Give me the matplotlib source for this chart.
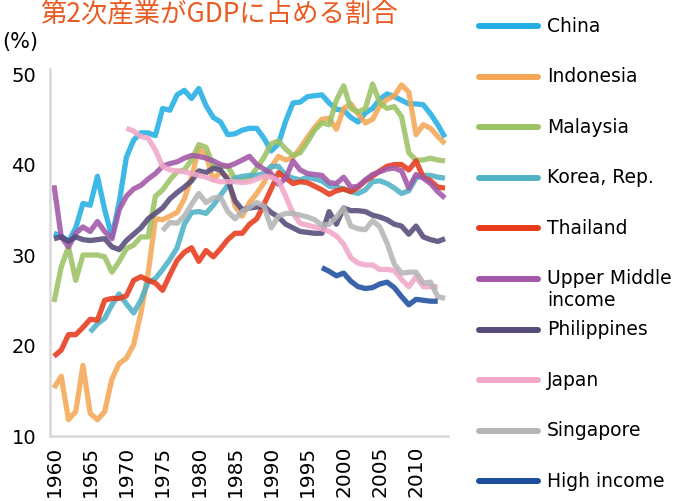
import matplotlib
matplotlib.use("Agg")
import matplotlib.pyplot as plt
from matplotlib.lines import Line2D

# ---------------- data ----------------
years_full = list(range(1960, 2015))
years_korea = list(range(1965, 2015))
years_japan = list(range(1970, 2014))
years_singapore = list(range(1975, 2015))
years_high = list(range(1997, 2014))

china = [32.4, 32.1, 31.5, 33.0, 35.7, 35.5, 38.7, 35.0, 32.0, 35.8,
         40.8, 42.7, 43.5, 43.5, 43.2, 46.2, 46.0, 47.7, 48.2, 47.3,
         48.4, 46.5, 45.2, 44.7, 43.3, 43.4, 43.8, 44.0, 44.0, 42.9,
         41.5, 42.3, 44.8, 46.8, 46.9, 47.5, 47.6, 47.7, 46.8, 46.1,
         46.0, 45.2, 44.7, 45.7, 46.2, 47.2, 47.8, 47.5, 47.1, 46.7,
         46.7, 46.6, 45.6, 44.4, 43.0]
indonesia = [15.3, 16.6, 11.8, 12.7, 17.8, 12.5, 11.8, 12.7, 16.3, 18.0,
             18.6, 20.1, 23.6, 28.0, 34.0, 33.9, 34.3, 34.7, 36.2, 38.6,
             41.8, 41.0, 38.3, 39.2, 38.6, 35.4, 34.3, 35.8, 36.8, 38.0,
             39.7, 40.9, 40.5, 40.8, 41.8, 43.0, 44.1, 45.0, 45.1, 43.9,
             46.2, 46.7, 45.6, 44.6, 45.0, 46.5, 47.2, 47.6, 48.8, 48.0,
             43.3, 44.4, 44.0, 43.1, 42.3]
malaysia = [24.8, 28.7, 30.9, 27.2, 30.0, 30.0, 30.0, 29.8, 28.1, 29.3,
            30.7, 31.1, 32.0, 32.0, 36.5, 37.2, 38.3, 39.2, 39.4, 40.5,
            42.2, 41.9, 39.8, 39.8, 39.8, 38.4, 38.3, 38.5, 39.6, 40.8,
            42.3, 42.6, 41.7, 41.0, 41.3, 42.5, 43.8, 44.6, 44.4, 47.1,
            48.7, 46.2, 45.8, 46.2, 48.9, 46.8, 46.2, 46.4, 45.3, 41.3,
            40.5, 40.5, 40.7, 40.5, 40.4]
korea = [21.5, 22.4, 23.0, 24.5, 25.7,
         24.6, 23.6, 25.0, 27.0, 27.4, 28.4, 29.5, 30.8, 33.4, 34.7,
         34.8, 34.6, 35.5, 36.6, 37.7, 38.5, 38.7, 38.8, 38.8, 39.0,
         39.8, 39.8, 38.8, 38.5, 38.3, 38.6, 38.4, 38.2, 37.6, 37.5,
         37.3, 37.0, 36.8, 37.2, 38.1, 38.2, 37.9, 37.4, 36.8, 37.1,
         38.5, 38.8, 38.8, 38.6, 38.5]
thailand = [18.8, 19.5, 21.2, 21.2, 22.0, 22.9, 22.8, 25.0, 25.2, 25.2,
            25.5, 27.2, 27.6, 27.2, 26.9, 26.1, 27.8, 29.4, 30.3, 30.8,
            29.3, 30.5, 29.8, 30.7, 31.7, 32.4, 32.4, 33.4, 34.0, 35.6,
            37.3, 39.1, 38.5, 37.9, 38.1, 38.0, 37.6, 37.2, 36.7, 37.1,
            37.3, 37.0, 37.5, 38.2, 38.7, 39.3, 39.8, 40.0, 40.0, 39.4,
            40.4, 38.6, 38.2, 37.5, 37.4]
upper_middle = [37.7, 32.0, 30.9, 32.4, 33.1, 32.6, 33.7, 32.6, 31.8, 35.0,
                36.5, 37.3, 37.7, 38.4, 39.0, 39.8, 40.1, 40.3, 40.7, 41.0,
                40.9, 40.7, 40.4, 40.0, 39.8, 40.1, 40.5, 40.9, 40.0, 39.5,
                39.0, 37.8, 38.5, 40.4, 39.4, 39.0, 38.9, 38.8, 38.0, 37.9,
                38.6, 37.5, 37.6, 38.3, 38.9, 39.2, 39.5, 39.6, 39.3, 37.4,
                38.9, 38.5, 37.9, 37.0, 36.3]
philippines = [31.8, 32.0, 31.5, 32.0, 31.7, 31.6, 31.7, 31.8, 30.9, 30.6,
               31.6, 32.3, 33.0, 34.0, 34.6, 35.2, 36.2, 36.9, 37.5, 38.2,
               39.3, 39.1, 39.6, 39.4, 38.3, 36.0, 35.0, 35.2, 35.3, 35.4,
               34.7, 34.2, 33.4, 33.0, 32.6, 32.5, 32.4, 32.4, 34.8, 33.4,
               35.2, 34.9, 34.9, 34.8, 34.4, 34.2, 33.9, 33.4, 33.2, 32.3,
               33.2, 32.0, 31.7, 31.5, 31.8]
japan = [44.0, 43.7, 43.1, 42.9, 41.6, 39.8, 39.4, 39.3, 39.2, 39.0,
         38.8, 38.6, 38.3, 38.1, 38.1, 38.1, 38.0, 38.1, 38.4, 38.7,
         38.6, 38.2, 36.5, 34.6, 33.5, 33.3, 33.1, 32.9, 32.6, 32.1,
         31.2, 29.7, 29.1, 28.9, 28.9, 28.4, 28.4, 28.3, 27.3, 26.5,
         27.6, 26.5, 26.5, 26.5]
singapore = [32.7, 33.6, 33.5, 34.3, 35.6,
             36.8, 35.8, 36.3, 36.4, 34.8, 34.0, 34.8, 35.3, 35.8, 35.4,
             33.0, 34.3, 34.6, 34.6, 34.4, 34.2, 33.9, 33.3, 33.4, 34.2,
             35.2, 33.2, 32.9, 32.8, 33.8, 33.1, 31.3, 29.0, 28.0, 28.1,
             28.1, 26.9, 27.0, 25.4, 25.2]
high_income = [28.6, 28.2, 27.7, 28.0, 27.1, 26.5, 26.3, 26.4, 26.8, 27.0,
               26.4, 25.4, 24.5, 25.1, 25.0, 24.9, 24.9]

series_names = ["China", "Indonesia", "Malaysia", "Korea, Rep.", "Thailand",
                "Upper Middle\nincome", "Philippines", "Japan", "Singapore",
                "High income"]
series_years = [years_full, years_full, years_full, years_korea, years_full,
                years_full, years_full, years_japan, years_singapore, years_high]
series_values = [china, indonesia, malaysia, korea, thailand,
                 upper_middle, philippines, japan, singapore, high_income]
series_colors = ["#22AEE4", "#F3A857", "#9BC265", "#4FB2C6", "#E83A1C",
                 "#A258A8", "#564A7A", "#F1A8C9", "#B5B5B5", "#1E4D9F"]

x_ticks = [1960, 1965, 1970, 1975, 1980, 1985, 1990, 1995, 2000, 2005, 2010]
y_ticks = [10, 20, 30, 40, 50]
title = "第2次産業がGDPに占める割合"
unit = "(%)"

# ---------------- figure ----------------
W, H = 680, 501
fig = plt.figure(figsize=(W / 100, H / 100), dpi=100)
ax = fig.add_axes([50 / W, (H - 436) / H, 398 / W, 367.4 / H])

for yrs, vals, col in zip(series_years, series_values, series_colors):
    ax.plot(yrs, vals, color=col, lw=3.8, alpha=0.88,
            solid_joinstyle="round", solid_capstyle="butt")

ax.set_xlim(1960 - 4 / 7.24, 2014 + 3 / 7.24)
ax.set_ylim(10, 50.6)
ax.set_yticks(y_ticks)
ax.set_yticklabels([str(v) for v in y_ticks], fontsize=14)
ax.set_xticks(x_ticks)
ax.set_xticklabels([str(v) for v in x_ticks], rotation=90, fontsize=14.5)
ax.tick_params(axis="both", length=0)
ax.tick_params(axis="y", pad=10)
ax.tick_params(axis="x", pad=7)
for s in ["top", "right"]:
    ax.spines[s].set_visible(False)
for s in ["left", "bottom"]:
    ax.spines[s].set_color("#d9d9d9")
    ax.spines[s].set_linewidth(1.8)

# title and unit
fig.text(40 / W, 1 - 15 / H, title, fontsize=19, color="#EA5B22",
         family=["Noto Sans CJK JP", "DejaVu Sans"], ha="left", va="center")
fig.text(2 / W, 1 - 42 / H, unit, fontsize=15, color="black",
         ha="left", va="center")

# legend (manual)
for i, (name, col) in enumerate(zip(series_names, series_colors)):
    ypx = 26 + i * 50.6
    yf = 1 - ypx / H
    fig.add_artist(Line2D([479 / W, 538 / W], [yf, yf], transform=fig.transFigure,
                          color=col, lw=4.3, solid_capstyle="round"))
    for j, line in enumerate(name.split("\n")):
        fig.text(547 / W, 1 - (ypx + j * 22) / H, line, fontsize=13.5,
                 color="black", ha="left", va="center")

fig.savefig("out.png", dpi=100)
